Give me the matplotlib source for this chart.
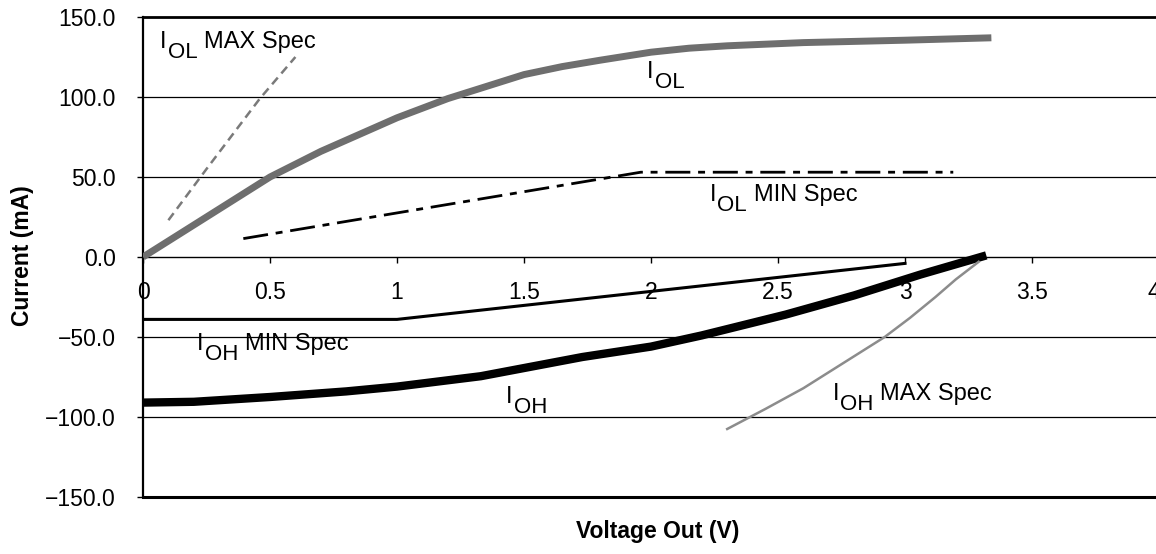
import matplotlib
matplotlib.use("Agg")
import matplotlib.pyplot as plt
from matplotlib.transforms import offset_copy, ScaledTranslation
from matplotlib.ticker import FuncFormatter

plt.rcParams["font.family"] = ["Liberation Sans", "DejaVu Sans"]

# --- datos (V, mA) ---
iol_v = [0, 0.2, 0.5, 0.7, 1.0, 1.2, 1.5, 1.65, 1.8, 2.0, 2.15, 2.3, 2.6, 3.0, 3.34]
iol_i = [0, 20, 50, 66, 87, 99, 114, 119, 123, 128, 130.5, 132, 134, 135.5, 137]

iol_max_v = [0.1, 0.25, 0.46, 0.6]
iol_max_i = [23, 55, 99, 125]

iol_min_v = [0.395, 1.96, 3.19]
iol_min_i = [11.5, 53, 53]

ioh_v = [0, 0.2, 0.5, 0.8, 1.0, 1.33, 1.73, 2.0, 2.2, 2.53, 2.8, 3.06, 3.32]
ioh_i = [-91, -90.5, -87.5, -84, -81, -74.5, -62.5, -56, -49, -36, -24, -11, 1]

ioh_min_v = [0, 1.0, 3.0]
ioh_min_i = [-39, -39, -4]

ioh_max_v = [2.3, 2.45, 2.6, 2.79, 2.92, 3.02, 3.12, 3.2, 3.29]
ioh_max_i = [-107.5, -95, -82, -63, -50, -38, -25, -14, -3]

x_ticks = [0, 0.5, 1, 1.5, 2, 2.5, 3, 3.5, 4]
y_ticks = [-150, -100, -50, 0, 50, 100, 150]

# etiquetas: (x, y, subindice, resto)
labels = [
    (0.067, 130.5, "OL", "MAX Spec"),
    (1.985, 112, "OL", ""),
    (2.23, 35, "OL", "MIN Spec"),
    (0.213, -58, "OH", "MIN Spec"),
    (1.43, -91, "OH", ""),
    (2.715, -89.5, "OH", "MAX Spec"),
]

fig = plt.figure(figsize=(11.56, 5.54), dpi=100)
ax = fig.add_axes([143 / 1156, 57 / 554, (1159 - 143) / 1156, 480 / 554])

ax.set_xlim(0, 4)
ax.set_ylim(-150, 150)
ax.set_xticks(x_ticks)
ax.set_yticks(y_ticks)
ax.xaxis.set_major_formatter(FuncFormatter(lambda v, p: f"{v:g}"))
ax.yaxis.set_major_formatter(FuncFormatter(lambda v, p: f"{v:.1f}".replace("-", "\u2212")))

# grilla y marco
for y in y_ticks:
    if y not in (-150, 0, 150):
        ax.axhline(y, color="black", lw=0.9, zorder=1)
ax.axhline(-150, color="black", lw=2.2, zorder=3, clip_on=False)
ax.spines["bottom"].set_position(("data", 0))
ax.spines["bottom"].set_linewidth(1.0)
ax.spines["top"].set_linewidth(2.0)
ax.spines["left"].set_linewidth(1.6)
ax.spines["right"].set_visible(False)
ax.tick_params(axis="x", direction="out", length=4, width=1, pad=13, labelsize=16.5)
ax.tick_params(axis="y", direction="out", length=4.5, width=1, pad=15, labelsize=16.5)

# el "4" queda en el borde; se corre un poco a la izquierda
last = ax.get_xticklabels()[-1]
last.set_transform(last.get_transform() + ScaledTranslation(-5 / 100, 0, fig.dpi_scale_trans))

# curvas
ax.plot(iol_v, iol_i, color="#6e6e6e", lw=5, solid_capstyle="butt",
        solid_joinstyle="round", zorder=4)
ax.plot(iol_max_v, iol_max_i, color="#7a7a7a", lw=1.8, dashes=(3.5, 2.2), zorder=4)
ax.plot(iol_min_v, iol_min_i, color="black", lw=2, dashes=(9, 2.8, 2.5, 2.8), zorder=4)
ax.plot(ioh_v, ioh_i, color="black", lw=6, solid_capstyle="butt",
        solid_joinstyle="round", zorder=4)
ax.plot(ioh_min_v, ioh_min_i, color="black", lw=2.2, zorder=4)
ax.plot(ioh_max_v, ioh_max_i, color="#8c8c8c", lw=1.8, solid_joinstyle="round", zorder=4)

# etiquetas con subindice grande (estilo Excel)
renderer = fig.canvas.get_renderer()


def sub_label(x, y, sub, rest):
    t = ax.text(x, y, "I", fontsize=17, va="baseline")
    w = t.get_window_extent(renderer).width
    tr = offset_copy(ax.transData, fig=fig, x=w + 1, y=-10, units="dots")
    s = ax.text(x, y, sub, fontsize=16, va="baseline", transform=tr)
    w2 = s.get_window_extent(renderer).width
    if rest:
        tr2 = offset_copy(ax.transData, fig=fig, x=w + w2 + 8, y=0, units="dots")
        ax.text(x, y, rest, fontsize=17, va="baseline", transform=tr2)


for x, y, sub, rest in labels:
    sub_label(x, y, sub, rest)

fig.text(658 / 1156, 1 - 538 / 554, "Voltage Out (V)", fontsize=16.5,
         fontweight="bold", ha="center", va="baseline")
fig.text(22 / 1156, 1 - 256 / 554, "Current (mA)", fontsize=16.5,
         fontweight="bold", ha="center", va="center", rotation=90)

fig.savefig("out.png", dpi=100)
